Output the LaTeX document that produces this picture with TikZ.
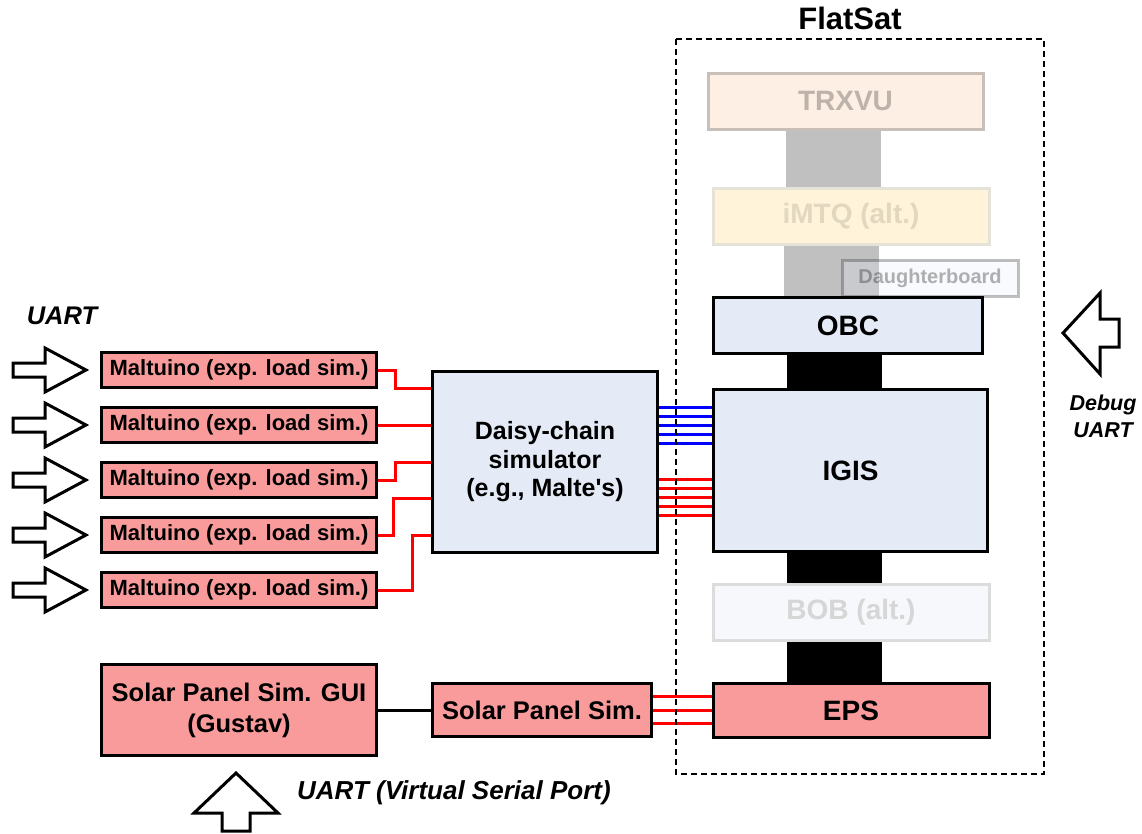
\documentclass[tikz,border=0pt]{standalone}
\usepackage{fontspec}
\setmainfont{Liberation Sans}
\newcommand\fsz[2]{\fontsize{#1}{#2}\selectfont}
\definecolor{pinkfill}{HTML}{F99B9B}
\definecolor{bluefill}{HTML}{E5EBF6}
\definecolor{trxfill}{HTML}{FDEFE3}
\definecolor{trxline}{HTML}{C7BFB8}
\definecolor{trxtext}{HTML}{BDB3AA}
\definecolor{imtqfill}{HTML}{FFF4DA}
\definecolor{imtqline}{HTML}{E5E2D8}
\definecolor{imtqtext}{HTML}{E2D8C0}
\definecolor{bobfill}{HTML}{F7F8FB}
\definecolor{bobline}{HTML}{DCDCDC}
\definecolor{bobtext}{HTML}{D6D6D6}
\definecolor{bargray}{HTML}{C0C0C0}
\definecolor{linkred}{HTML}{FF0000}
\definecolor{linkblue}{HTML}{0000FF}
\pgfdeclarelayer{bglayer}
\pgfsetlayers{bglayer,main}
\begin{document}
\begin{tikzpicture}[x=1pt,y=-1pt,
  blk/.style={draw=black, line width=3pt, inner sep=0pt, align=center},
  pinkbox/.style={blk, fill=pinkfill},
  bluebox/.style={blk, fill=bluefill},
  malt/.style={pinkbox, minimum width=275pt, minimum height=35pt, font=\bfseries\fsz{22}{26}},
  stackbox/.style={blk, minimum width=275pt, minimum height=56pt, font=\bfseries\fsz{28}{32}},
  redline/.style={draw=linkred, line width=3pt},
  blueline/.style={draw=linkblue, line width=3pt},
  blackline/.style={draw=black, line width=3pt},
  grayslab/.style={draw=bargray, line width=95pt},
  blackslab/.style={draw=black, line width=95pt},
  blockarrow/.style={draw=black, line width=3pt, fill=white},
  lbl/.style={inner sep=0pt, font=\bfseries\itshape}
]
\useasboundingbox (0,0) rectangle (1142,833);

% FlatSat stack
\node[stackbox, draw=trxline, fill=trxfill, text=trxtext] (trx) at (845.5,101.5) {TRXVU};
\node[stackbox, draw=imtqline, fill=imtqfill, text=imtqtext, minimum width=276pt] (imtq) at (851,216) {iMTQ (alt.)};
\node[stackbox, minimum width=269pt, fill=bluefill] (obc) at (848,325.5) {OBC};
\node[stackbox, minimum width=274pt, minimum height=162pt, fill=bluefill] (igis) at (850.5,470.5) {IGIS};
\node[stackbox, draw=bobline, fill=bobfill, text=bobtext, minimum width=276pt] (bob) at (851,612.5) {BOB (alt.)};
\node[stackbox, minimum width=276pt, minimum height=54pt, fill=pinkfill] (eps) at (851,710.5) {EPS};

\coordinate (busx) at (833.5,0);
\begin{pgfonlayer}{bglayer}
\draw[grayslab] (trx.south -| busx) -- (imtq.north -| busx);
\draw[grayslab] ([xshift=-2pt]imtq.south -| busx) -- ([xshift=-2pt]obc.north -| busx);
\draw[blackslab] ([xshift=1pt]obc.south -| busx) -- ([xshift=1pt]igis.north -| busx);
\draw[blackslab] ([xshift=1pt]igis.south -| busx) -- ([xshift=1pt]bob.north -| busx);
\draw[blackslab] ([xshift=1pt]bob.south -| busx) -- ([xshift=1pt]eps.north -| busx);
\end{pgfonlayer}

\node[blk, draw=black, fill=bluefill, opacity=0.25, text opacity=0.3, minimum width=176pt, minimum height=36pt, font=\bfseries\fsz{20}{24}] (db) at (930,278) {Daughterboard};

% Maltuinos
\node[malt] (m1) at (239,370) {Maltuino (exp. load sim.)};
\node[malt] (m2) at (239,425) {Maltuino (exp. load sim.)};
\node[malt] (m3) at (239,480) {Maltuino (exp. load sim.)};
\node[malt] (m4) at (239,535) {Maltuino (exp. load sim.)};
\node[malt] (m5) at (239,590) {Maltuino (exp. load sim.)};

\node[bluebox, minimum width=225pt, minimum height=181pt, font=\bfseries\fsz{25}{28.5}] (daisy) at (545,462) {Daisy-chain\\simulator\\(e.g., Malte\textquotesingle s)};

\node[pinkbox, minimum width=275pt, minimum height=91pt, font=\bfseries\fsz{25.5}{31}] (gui) at (239,710) {Solar Panel Sim. GUI\\(Gustav)};
\node[pinkbox, minimum width=219pt, minimum height=53pt, font=\bfseries\fsz{25.5}{30}] (sps) at (542,710) {Solar Panel Sim.};

% Maltuino -> daisy
\draw[redline] (m1.east) -- ++(17,0) |- ([yshift=74pt]daisy.west);
\draw[redline] (m2.east) -- (m2.east -| daisy.west);
\draw[redline] (m3.east) -- ++(17,0) |- ([yshift=0pt]daisy.west);
\draw[redline] (m4.east) -- ++(15,0) |- ([yshift=-36pt]daisy.west);
\draw[redline] (m5.east) -- ++(34,0) |- ([yshift=-73pt]daisy.west);

% daisy -> IGIS
\foreach \yy in {407,416,425,434,443} {
  \coordinate (t) at (0,\yy);
  \draw[blueline] (daisy.east |- t) -- (igis.west |- t);
}
\foreach \yy in {479,488,497,506,515} {
  \coordinate (t) at (0,\yy);
  \draw[redline] (daisy.east |- t) -- (igis.west |- t);
}
% solar
\draw[blackline] (gui.east) -- (sps.west);
\foreach \yy in {696,710,723} {
  \coordinate (t) at (0,\yy);
  \draw[redline] (sps.east |- t) -- (eps.west |- t);
}

% FlatSat frame
\draw[line width=1.5pt, dash pattern=on 6pt off 4pt] (676,39) rectangle (1044,774);
\node[inner sep=0pt, font=\bfseries\fsz{31}{34}] (flatsat) at (850,18) {FlatSat};

% block arrows
\foreach \c in {370,425,480,535,590} {
  \draw[blockarrow] (13,\c-7) -- (45,\c-7) -- (45,\c-22) -- (86,\c) -- (45,\c+22) -- (45,\c+7) -- (13,\c+7) -- cycle;
}
\draw[blockarrow] (222,831) -- (222,813) -- (194,813) -- (236,773) -- (278,813) -- (250,813) -- (250,831) -- cycle;
\draw[blockarrow] (1119,319) -- (1100,319) -- (1100,293) -- (1063,333) -- (1100,374) -- (1100,347) -- (1119,347) -- cycle;

% labels
\node[lbl, font=\bfseries\itshape\fsz{25.5}{28}] (uartl) at (62,316) {UART};
\node[lbl, font=\bfseries\itshape\fsz{21.5}{27}, align=center] (dbg) at (1103,416) {Debug\\UART};
\node[lbl, font=\bfseries\itshape\fsz{26}{30}, anchor=west] (vsp) at (297,793) {UART (Virtual Serial Port)};
\end{tikzpicture}
\end{document}
